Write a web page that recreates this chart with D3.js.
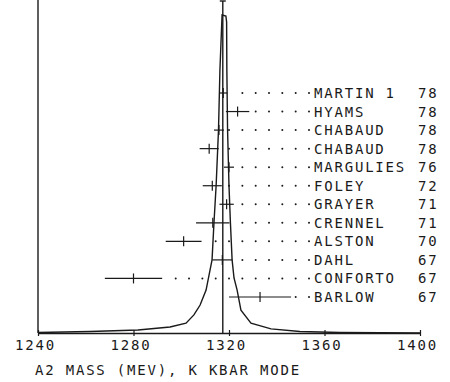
<!DOCTYPE html>
<html>
<head>
<meta charset="utf-8">
<script src="https://cdn.jsdelivr.net/npm/d3@7"></script>
<style>
  html, body { margin: 0; padding: 0; background: #fff; }
  svg { display: block; }
  text { font-family: "DejaVu Sans Mono", "Liberation Mono", monospace; font-size: 14px; fill: #1a1a1a; letter-spacing: 1.8px; }
</style>
</head>
<body>
<script>
// ---- data ----
const names  = ["MARTIN 1", "HYAMS", "CHABAUD", "CHABAUD", "MARGULIES", "FOLEY", "GRAYER", "CRENNEL", "ALSTON", "DAHL", "CONFORTO", "BARLOW"];
const years  = ["78", "78", "78", "78", "76", "72", "71", "71", "70", "67", "67", "67"];
const masses = [1317.6, 1323.6, 1315.8, 1311.7, 1320.0, 1313.0, 1319.0, 1313.2, 1301.0, 1317.2, 1280.0, 1333.0];
const errors = [1.7, 4.9, 2.1, 4.0, 2.1, 4.0, 3.0, 7.0, 7.5, 4.2, 12.0, 13.0];
const meanMass = 1317.4;
// resonance curve (mass, relative intensity 0..100)
const curveMass = [1240.0, 1261.8, 1281.9, 1295.3, 1302.0, 1305.3, 1307.9, 1310.4, 1312.9, 1313.7, 1314.6, 1315.6, 1316.2, 1317.1,
                   1318.7, 1319.0, 1319.1, 1319.4, 1320.0, 1320.6, 1321.3, 1322.1, 1323.4, 1325.0, 1329.2, 1337.6, 1349.7, 1366.5, 1400.0];
const curveVal  = [0.16, 0.47, 0.94, 1.9, 3.1, 5.7, 8.8, 13.5, 23.0, 34.6, 46.2, 63.8, 82.7, 100,
                   99.7, 97.8, 82.7, 63.8, 46.2, 34.6, 23.0, 17.3, 13.5, 7.2, 3.1, 1.3, 0.47, 0.16, 0];
const xTicks = [1240, 1280, 1320, 1360, 1400];
const xTitle = "A2 MASS (MEV), K KBAR MODE";

// ---- layout ----
const W = 450, H = 382;
const x = d3.scaleLinear().domain([1240, 1400]).range([38, 420]);
const y = d3.scaleLinear().domain([0, 100]).range([333, 15]);
const row = d3.scalePoint().domain(d3.range(names.length)).range([93, 297]);
const ink = "#1a1a1a";

const svg = d3.select("body").append("svg").attr("width", W).attr("height", H);

// left axis line
svg.append("line").attr("x1", x(1240)).attr("x2", x(1240)).attr("y1", 0).attr("y2", y(0))
  .attr("stroke", ink).attr("stroke-width", 1.4);

// bottom axis
const axis = d3.axisBottom(x).tickValues(xTicks).tickFormat(d3.format("d")).tickSize(0).tickPadding(0);
const gx = svg.append("g").attr("transform", `translate(0,${y(0)})`).call(axis);
gx.select(".domain").attr("stroke", ink).attr("stroke-width", 1.4);
gx.selectAll(".tick line").remove();
gx.selectAll(".tick").append("line").attr("y1", -3).attr("y2", 3).attr("stroke", ink).attr("stroke-width", 1.2);
gx.selectAll(".tick text").attr("y", 17).attr("dy", 0).attr("dx", -3)
  .style("font-family", '"DejaVu Sans Mono", monospace').style("font-size", "14px").attr("fill", ink);

// title
svg.append("text").attr("x", 35).attr("y", 375).text(xTitle);

// curve
const curveData = curveMass.map((m, i) => [m, curveVal[i]]);
svg.append("path").datum(curveData)
  .attr("d", d3.line().x(d => x(d[0])).y(d => y(d[1])))
  .attr("fill", "none").attr("stroke", ink).attr("stroke-width", 1.4);

// mean vertical line with cap
svg.append("line").attr("x1", x(meanMass)).attr("x2", x(meanMass)).attr("y1", 1).attr("y2", y(0))
  .attr("stroke", ink).attr("stroke-width", 1.4);
svg.append("line").attr("x1", x(meanMass) - 3).attr("x2", x(meanMass) + 3).attr("y1", 1).attr("y2", 1)
  .attr("stroke", ink).attr("stroke-width", 1.4);

// measurements
const labelDotX = 309, nameX = 314, yearX = 418, dotStep = 13.33;
names.forEach((n, i) => {
  const cy = row(i);
  const lo = x(masses[i] - errors[i]), hi = x(masses[i] + errors[i]), c = x(masses[i]);
  const g = svg.append("g");
  g.append("line").attr("x1", lo).attr("x2", hi).attr("y1", cy).attr("y2", cy)
    .attr("stroke", ink).attr("stroke-width", 1.2);
  g.append("line").attr("x1", c).attr("x2", c).attr("y1", cy - 5).attr("y2", cy + 5)
    .attr("stroke", ink).attr("stroke-width", 1.2);
  // dotted leader
  for (let k = 0; ; k++) {
    const dx = labelDotX - k * dotStep;
    if (dx < hi + 4) break;
    g.append("circle").attr("cx", dx).attr("cy", cy).attr("r", 1).attr("fill", ink);
  }
  g.append("text").attr("x", nameX).attr("y", cy + 5).text(n);
  g.append("text").attr("x", yearX).attr("y", cy + 5).text(years[i]);
});
</script>
</body>
</html>
